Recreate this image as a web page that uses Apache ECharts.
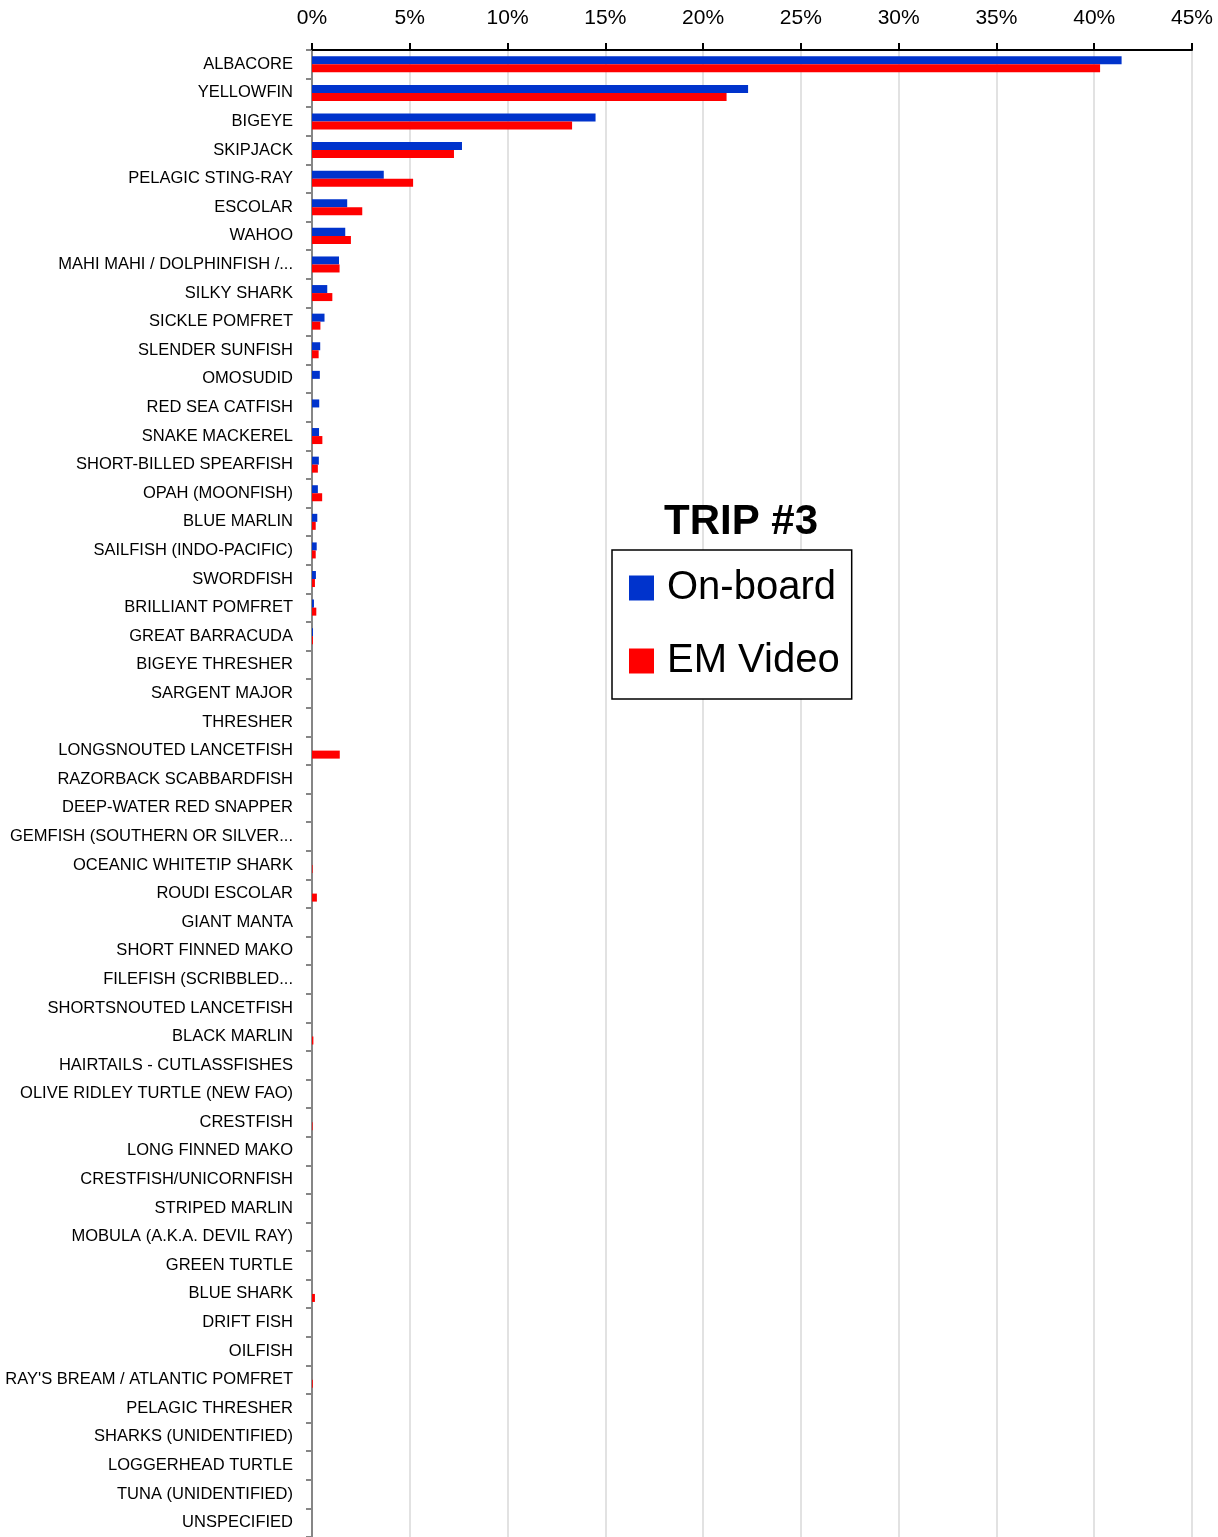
<!DOCTYPE html>
<html>
<head>
<meta charset="utf-8">
<script src="https://cdn.jsdelivr.net/npm/echarts@6/dist/echarts.min.js"></script>
<style>
html,body{margin:0;padding:0;background:#fff;}
#chart{width:1218px;height:1537px;}
</style>
</head>
<body>
<div id="chart"></div>
<script>
const categories = [
  "ALBACORE","YELLOWFIN","BIGEYE","SKIPJACK","PELAGIC STING-RAY","ESCOLAR","WAHOO",
  "MAHI MAHI / DOLPHINFISH /...","SILKY SHARK","SICKLE POMFRET","SLENDER SUNFISH","OMOSUDID",
  "RED SEA CATFISH","SNAKE MACKEREL","SHORT-BILLED SPEARFISH","OPAH (MOONFISH)","BLUE MARLIN",
  "SAILFISH (INDO-PACIFIC)","SWORDFISH","BRILLIANT POMFRET","GREAT BARRACUDA","BIGEYE THRESHER",
  "SARGENT MAJOR","THRESHER","LONGSNOUTED LANCETFISH","RAZORBACK SCABBARDFISH",
  "DEEP-WATER RED SNAPPER","GEMFISH (SOUTHERN OR SILVER...","OCEANIC WHITETIP SHARK",
  "ROUDI ESCOLAR","GIANT MANTA","SHORT FINNED MAKO","FILEFISH (SCRIBBLED...",
  "SHORTSNOUTED LANCETFISH","BLACK MARLIN","HAIRTAILS - CUTLASSFISHES",
  "OLIVE RIDLEY TURTLE (NEW FAO)","CRESTFISH","LONG FINNED MAKO","CRESTFISH/UNICORNFISH",
  "STRIPED MARLIN","MOBULA (A.K.A. DEVIL RAY)","GREEN TURTLE","BLUE SHARK","DRIFT FISH",
  "OILFISH","RAY'S BREAM / ATLANTIC POMFRET","PELAGIC THRESHER","SHARKS (UNIDENTIFIED)",
  "LOGGERHEAD TURTLE","TUNA (UNIDENTIFIED)","UNSPECIFIED"
];
// percent values
const onBoard = [
  41.4, 22.3, 14.5, 7.67, 3.67, 1.8, 1.7,
  1.38, 0.78, 0.64, 0.42, 0.40,
  0.37, 0.36, 0.35, 0.30, 0.27,
  0.24, 0.20, 0.10, 0.05, 0,
  0, 0, 0, 0,
  0, 0, 0,
  0, 0, 0, 0,
  0, 0, 0,
  0, 0, 0, 0,
  0, 0, 0, 0, 0,
  0, 0, 0, 0,
  0, 0, 0
];
const emVideo = [
  40.3, 21.2, 13.3, 7.26, 5.17, 2.57, 1.99,
  1.41, 1.04, 0.43, 0.34, 0,
  0, 0.53, 0.30, 0.52, 0.19,
  0.19, 0.15, 0.22, 0.05, 0,
  0, 0, 1.42, 0,
  0, 0, 0.03,
  0.25, 0, 0, 0,
  0, 0.07, 0,
  0, 0.03, 0, 0,
  0, 0, 0, 0.15, 0,
  0, 0.04, 0, 0,
  0, 0, 0
];
const xMax = 45;
const xInterval = 5;
const seriesNames = ["On-board", "EM Video"];
const seriesColors = ["#0033CC", "#FF0000"];

const FONT = "Liberation Sans";
const chart = echarts.init(document.getElementById('chart'), null, {renderer: 'canvas'});
chart.setOption({
  animation: false,
  backgroundColor: '#ffffff',
  title: {
    text: 'TRIP #3',
    left: 659, top: 496,
    textStyle: {fontFamily: FONT, fontSize: 42, fontWeight: 'bold', color: '#000'}
  },
  legend: {
    orient: 'vertical',
    left: 612, top: 550,
    width: 242,
    padding: [15, 12, 15, 17],
    borderColor: '#000', borderWidth: 1.5,
    backgroundColor: '#fff',
    itemWidth: 25, itemHeight: 25, itemGap: 27,
    icon: 'rect',
    textStyle: {fontFamily: FONT, fontSize: 40, color: '#000', lineHeight: 46, padding: [0, 0, 0, 8]},
    data: seriesNames
  },
  grid: {left: 312, right: 26, top: 50, height: 1488.6, containLabel: false},
  xAxis: {
    type: 'value', position: 'top', min: 0, max: xMax, interval: xInterval,
    axisLine: {show: true, lineStyle: {color: '#000', width: 2}},
    axisTick: {show: true, length: 7, lineStyle: {color: '#000', width: 2}},
    axisLabel: {formatter: v => v + '%', fontFamily: FONT, fontSize: 21, color: '#000', margin: 21},
    splitLine: {show: true, lineStyle: {color: '#d9d9d9', width: 1.5}}
  },
  yAxis: {
    type: 'category', inverse: true, data: categories,
    axisLine: {show: true, lineStyle: {color: '#868686', width: 2}},
    axisTick: {show: true, length: 6, lineStyle: {color: '#868686', width: 2}},
    axisLabel: {fontFamily: FONT, fontSize: 16.5, color: '#000', margin: 19, interval: 0, padding: [2, 0, 0, 0]},
    splitLine: {show: false}
  },
  series: seriesNames.map((name, i) => ({
    name: name, type: 'bar',
    data: i === 0 ? onBoard : emVideo,
    itemStyle: {color: seriesColors[i]},
    barGap: '0%', barCategoryGap: '44%'
  }))
});
</script>
</body>
</html>
